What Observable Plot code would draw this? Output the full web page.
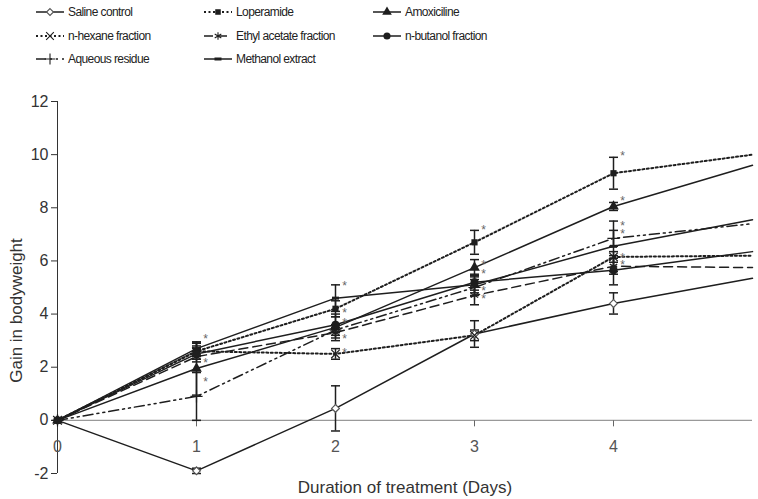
<!DOCTYPE html>
<html><head><meta charset="utf-8">
<script src="https://cdn.jsdelivr.net/npm/d3@7"></script>
<script src="https://cdn.jsdelivr.net/npm/@observablehq/plot@0.6"></script>
<style>
body{margin:0;background:#fff;font-family:"Liberation Sans",Arial,sans-serif;}
#legend{position:relative;width:758px;height:75px;}
.item{position:absolute;height:16px;display:flex;align-items:center;font-size:12px;letter-spacing:-0.6px;color:#222;white-space:nowrap;}
.item svg{margin-right:3px;}
</style></head><body>
<div id="legend"></div><div id="chart"></div>
<script>
// ---- data ----
const days = [0, 1, 2, 3, 4, 5];
const xTickDays = [0, 1, 2, 3, 4];
const yTicks = [-2, 0, 2, 4, 6, 8, 10, 12];
const series = ["Saline control", "Loperamide", "Amoxiciline", "n-hexane fraction",
  "Ethyl acetate fraction", "n-butanol fraction", "Aqueous residue", "Methanol extract"];

const saline      = [0, -1.9, 0.45, 3.25, 4.4, 5.35];
const loperamide  = [0, 2.6, 4.2, 6.7, 9.3, 10.0];
const amoxiciline = [0, 1.95, 3.5, 5.75, 8.05, 9.6];
const nHexane     = [0, 2.6, 2.5, 3.2, 6.15, 6.2];
const ethylAcet   = [0, 2.4, 3.3, 4.7, 5.8, 5.75];
const nButanol    = [0, 2.5, 3.6, 5.2, 5.65, 6.35];
const aqueous     = [0, 0.9, 3.4, 5.0, 6.85, 7.4];
const methanol    = [0, 2.7, 4.6, 5.1, 6.55, 7.55];
const values = [saline, loperamide, amoxiciline, nHexane, ethylAcet, nButanol, aqueous, methanol];

// standard deviations (null = no bar)
const sdSaline      = [null, 0.1, 0.85, 0.5, 0.4, null];
const sdLoperamide  = [null, 0.3, 0.3, 0.45, 0.6, null];
const sdAmoxiciline = [null, 1.0, 0.5, 0.3, 0.15, null];
const sdNHexane     = [null, 0.2, 0.2, 0.2, 0.2, null];
const sdEthylAcet   = [null, 0.2, 0.2, 0.35, 0.3, null];
const sdNButanol    = [null, 0.2, 0.3, 0.3, 0.55, null];
const sdAqueous     = [null, 0.9, 0.2, 0.3, 0.3, null];
const sdMethanol    = [null, 0.25, 0.5, 0.3, 0.95, null];
const sds = [sdSaline, sdLoperamide, sdAmoxiciline, sdNHexane, sdEthylAcet, sdNButanol, sdAqueous, sdMethanol];

// significance asterisks
const starDays   = [1, 1, 1, 2, 2, 2, 2, 2, 3, 3, 3, 3, 3, 4, 4, 4, 4, 4, 4];
const starValues = [3.1, 2.2, 1.5, 5.1, 4.1, 3.7, 3.1, 2.6, 7.2, 5.9, 5.55, 4.9, 4.6, 10.0, 8.3, 7.35, 7.05, 6.15, 5.9];

// ---- styles ----
const ink = "#1e1e1e";
const methSym = {draw(ctx) { ctx.rect(-3.5, -1.5, 7, 3); }};
const styles = [
  {dash: null, width: 1.5, symbol: "diamond2", fill: "white", stroke: "#555", r: 3.5},
  {dash: "2,2.5", width: 2, symbol: "square", fill: ink, stroke: "none", r: 3.5},
  {dash: null, width: 1.5, symbol: "triangle", fill: ink, stroke: "none", r: 4},
  {dash: "2,2.5", width: 2, symbol: "times", fill: "none", stroke: ink, r: 4},
  {dash: "9,5", width: 1.5, symbol: "asterisk", fill: "none", stroke: ink, r: 4},
  {dash: null, width: 1.5, symbol: "circle", fill: ink, stroke: "none", r: 4},
  {dash: "10,4,2,4,2,4", width: 1.5, symbol: "plus", fill: "none", stroke: ink, r: 4},
  {dash: null, width: 1.5, symbol: methSym, fill: ink, stroke: "none", r: 3}
];

// ---- tables ----
const rows = [], errRows = [], capRows = [];
series.forEach((s, i) => days.forEach((d, j) => {
  rows.push({series: s, idx: i, day: d, value: values[i][j]});
  const sd = sds[i][j];
  if (sd != null) {
    errRows.push({day: d, lo: values[i][j] - sd, hi: values[i][j] + sd});
    capRows.push({day: d, y: values[i][j] - sd});
    capRows.push({day: d, y: values[i][j] + sd});
  }
}));
const stars = starDays.map((d, i) => ({day: d, value: starValues[i]}));

const capSym = {draw(ctx) { ctx.moveTo(-4.5, 0); ctx.lineTo(4.5, 0); }};
const tickSym = {draw(ctx) { ctx.moveTo(0, 0); ctx.lineTo(0, 6); }};

// ---- legend ----
const symMap = {diamond2: d3.symbolDiamond2, square: d3.symbolSquare, triangle: d3.symbolTriangle,
  times: d3.symbolTimes, asterisk: d3.symbolAsterisk, circle: d3.symbolCircle, plus: d3.symbolPlus};
const legend = document.getElementById("legend");
const colX = [35, 203, 372], rowY = [4, 28, 51];
series.forEach((s, i) => {
  const st = styles[i];
  const div = document.createElement("div");
  div.className = "item";
  div.style.left = colX[i % 3] + "px";
  div.style.top = rowY[Math.floor(i / 3)] + "px";
  let mk;
  if (typeof st.symbol === "string") {
    const p = d3.symbol(symMap[st.symbol], st.r * st.r * Math.PI * 0.8)();
    mk = `<path transform="translate(15,8)" d="${p}" fill="${st.fill}" stroke="${st.stroke}" stroke-width="1.1"/>`;
  } else {
    mk = `<rect x="11.5" y="6.5" width="7" height="3" fill="${ink}"/>`;
  }
  div.innerHTML = `<svg width="30" height="16"><line x1="1" x2="29" y1="8" y2="8" stroke="${ink}" stroke-width="${st.width}" ${st.dash ? `stroke-dasharray="${st.dash}"` : ""}/>${mk}</svg><span>${s}</span>`;
  legend.appendChild(div);
});

// ---- chart ----
const lineMarks = series.map((s, i) => Plot.line(rows.filter(r => r.idx === i), {
  x: "day", y: "value", stroke: ink, strokeWidth: styles[i].width,
  strokeDasharray: styles[i].dash || undefined
}));
const dotMarks = series.map((s, i) => Plot.dot(rows.filter(r => r.idx === i && r.day <= 4), {
  x: "day", y: "value", symbol: styles[i].symbol, r: styles[i].r,
  fill: styles[i].fill, stroke: styles[i].stroke, strokeWidth: 1.2
}));

const chart = Plot.plot({
  width: 758, height: 424,
  marginLeft: 57, marginRight: 6, marginTop: 26, marginBottom: 26,
  x: {domain: [0, 5], axis: null},
  y: {domain: [-2, 12], axis: null},
  style: {fontFamily: "'Liberation Sans', Arial, sans-serif", color: "#333", background: "white"},
  marks: [
    Plot.axisY(yTicks, {tickSize: 6, tickPadding: 3, fontSize: 16, tickFormat: d => String(d), label: null, stroke: "#333", fill: "#333"}),
    Plot.ruleX([0], {stroke: "#333", strokeWidth: 1}),
    Plot.ruleY([0], {stroke: "#999", strokeWidth: 1.2}),
    Plot.dot(xTickDays.slice(1), {x: d => d, y: 0, symbol: tickSym, stroke: "#666", strokeWidth: 1}),
    Plot.text(xTickDays, {x: d => d, y: 0, text: d => String(d), dy: 27, fontSize: 16, fill: "#555"}),
    ...lineMarks,
    Plot.ruleX(errRows, {x: "day", y1: "lo", y2: "hi", stroke: ink, strokeWidth: 1.5}),
    Plot.dot(capRows, {x: "day", y: "y", symbol: capSym, stroke: ink, strokeWidth: 1.5}),
    ...dotMarks,
    Plot.text(stars, {x: "day", y: "value", text: () => "*", dx: 9, dy: 3, fontSize: 12, lineHeight: 0.6, fill: "#666"}),
    Plot.text(["Gain in bodyweight"], {frameAnchor: "left", textAnchor: "middle", lineAnchor: "middle", dx: -41, dy: 23, rotate: -90, fontSize: 17, fill: "#333"}),
    Plot.text(["Duration of treatment (Days)"], {frameAnchor: "bottom", lineAnchor: "middle", dy: 14, fontSize: 17, fill: "#333"})
  ]
});
document.getElementById("chart").appendChild(chart);
</script>
</body></html>
